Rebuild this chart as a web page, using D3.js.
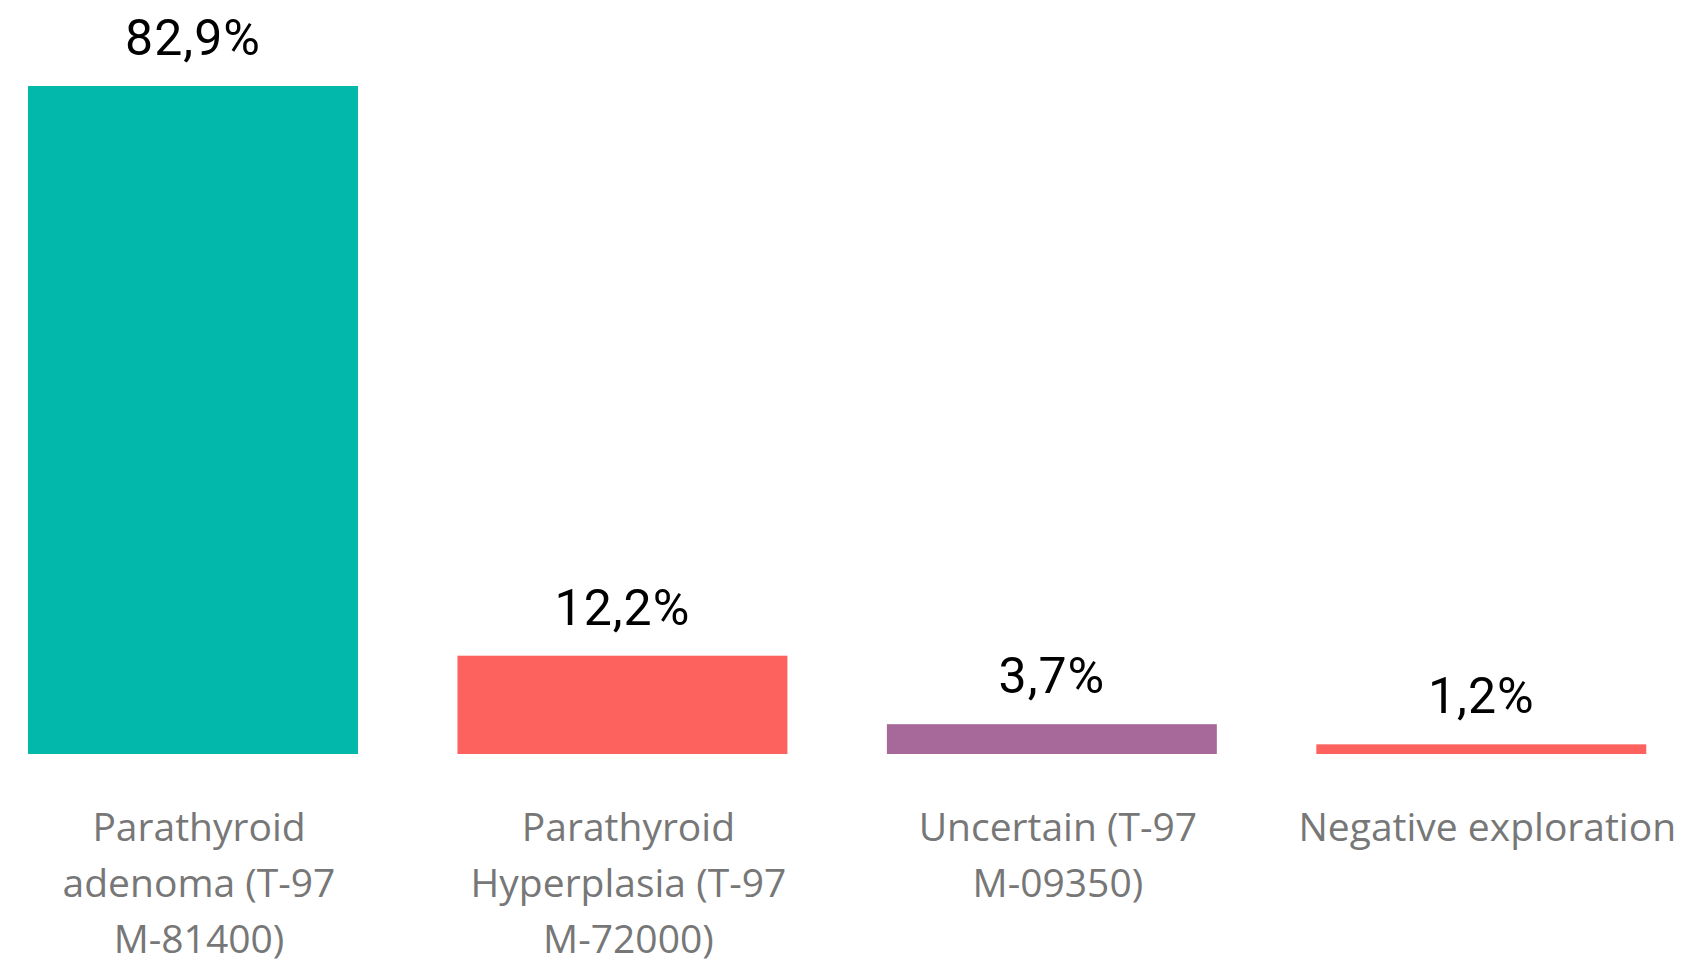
<!DOCTYPE html>
<html>
<head>
<meta charset="utf-8">
<script src="https://cdn.jsdelivr.net/npm/d3@7"></script>
<style>
  html, body { margin: 0; padding: 0; background: #ffffff; }
  svg { display: block; }
</style>
</head>
<body>
<svg id="chart" width="1690" height="968"></svg>
<script>
// Diagnosis categories and their share of cases (%)
const categories = [
  "Parathyroid adenoma (T-97 M-81400)",
  "Parathyroid Hyperplasia (T-97 M-72000)",
  "Uncertain (T-97 M-09350)",
  "Negative exploration"
];
const values = [82.9, 12.2, 3.7, 1.2];
const valueLabels = ["82,9%", "12,2%", "3,7%", "1,2%"];
// Category axis labels, broken into lines
const tickLines = [
  ["Parathyroid", "adenoma (T-97", "M-81400)"],
  ["Parathyroid", "Hyperplasia (T-97", "M-72000)"],
  ["Uncertain (T-97", "M-09350)"],
  ["Negative exploration"]
];
const colors = ["#01B8AA", "#FD625E", "#A66999", "#FD625E"];

const svg = d3.select("#chart");

const x = d3.scaleBand()
  .domain(categories)
  .range([-21.7, 1696])
  .paddingInner(0.2317)
  .paddingOuter(0.1158);

const y = d3.scaleLinear()
  .domain([0, d3.max(values)])
  .range([754, 86]);

const data = categories.map((c, i) => ({
  cat: c, value: values[i], label: valueLabels[i], lines: tickLines[i], color: colors[i]
}));

// Bars
svg.append("g")
  .selectAll("rect")
  .data(data)
  .join("rect")
  .attr("x", d => x(d.cat))
  .attr("width", x.bandwidth())
  .attr("y", d => y(d.value))
  .attr("height", d => y(0) - y(d.value))
  .attr("fill", d => d.color);

// Value labels above bars
svg.append("g")
  .selectAll("text")
  .data(data)
  .join("text")
  .attr("x", d => x(d.cat) + x.bandwidth() / 2)
  .attr("y", d => y(d.value) - 31)
  .attr("text-anchor", "middle")
  .attr("font-family", "Roboto, sans-serif")
  .attr("font-size", 50)
  .attr("letter-spacing", "1px")
  .attr("fill", "#000000")
  .text(d => d.label);

// Category axis (no line or ticks), multi-line labels
const xAxis = svg.append("g")
  .attr("transform", `translate(0, ${y(0)})`)
  .call(d3.axisBottom(x).tickSize(0).tickFormat(""));
xAxis.select(".domain").remove();

xAxis.selectAll(".tick").each(function(d, i) {
  const t = d3.select(this).append("text")
    .attr("text-anchor", "middle")
    .attr("font-family", "'Open Sans', sans-serif")
    .attr("font-size", 39)
    .attr("fill", "#777777")
    .attr("x", 6)
    .attr("y", 87);
  tickLines[i].forEach((line, j) => {
    t.append("tspan").attr("x", 6).attr("dy", j === 0 ? 0 : 56).text(line);
  });
});
</script>
</body>
</html>
